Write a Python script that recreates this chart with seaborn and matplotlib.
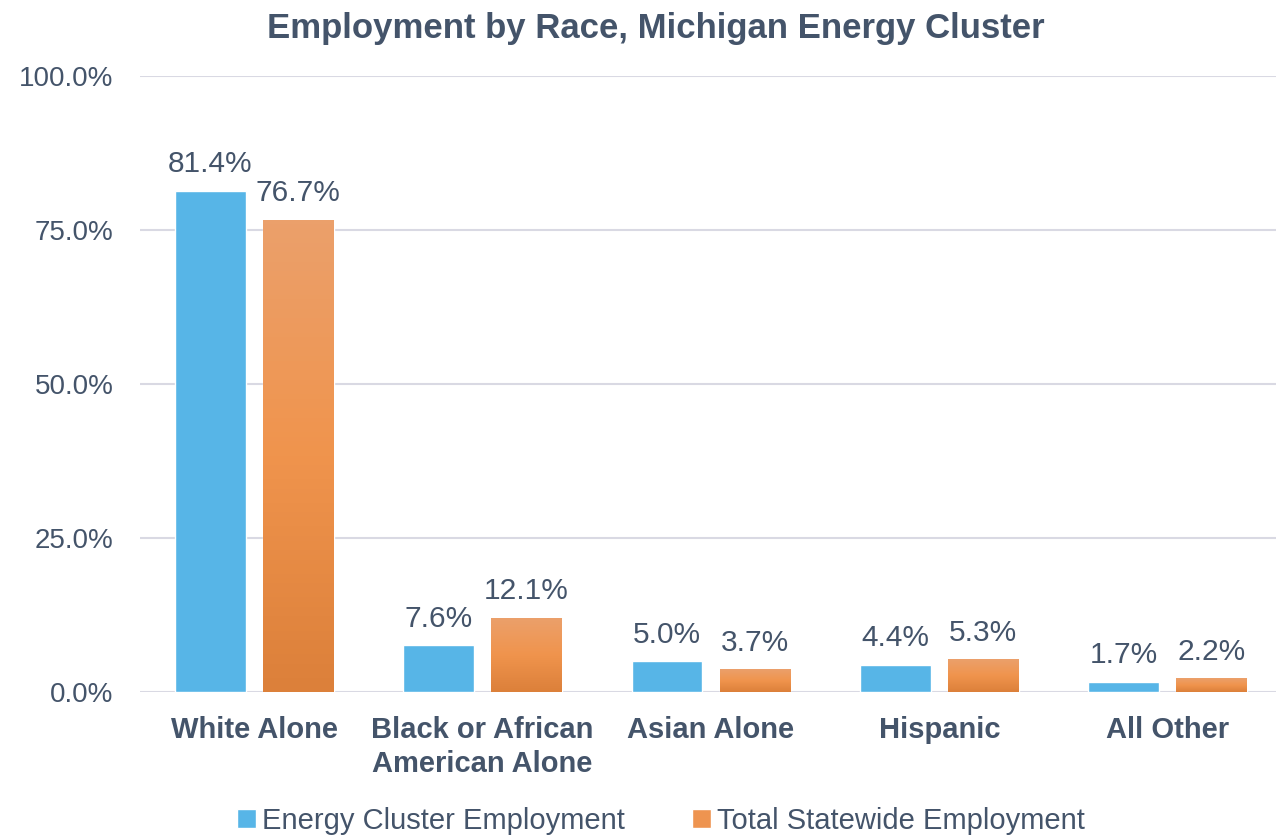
import numpy as np
import pandas as pd
import seaborn as sns
import matplotlib.pyplot as plt
from matplotlib.colors import LinearSegmentedColormap
from matplotlib.patches import Patch

# Data
categories = ['White Alone', 'Black or African\nAmerican Alone', 'Asian Alone', 'Hispanic', 'All Other']
series = ['Energy Cluster Employment', 'Total Statewide Employment']
energy_values = [81.4, 7.6, 5.0, 4.4, 1.7]
statewide_values = [76.7, 12.1, 3.7, 5.3, 2.2]

text_color = '#44546A'
blue = '#57B5E7'
orange = '#EE9450'

df = pd.DataFrame({
    'category': categories * 2,
    'series': [series[0]] * len(categories) + [series[1]] * len(categories),
    'value': energy_values + statewide_values,
})

sns.set_style('white')
plt.rcParams['font.family'] = ['Liberation Sans', 'DejaVu Sans']

fig = plt.figure(figsize=(12.76, 8.36), dpi=100)
ax = fig.add_axes([0.1097, 0.1722, 0.895, 0.7368])

sns.barplot(data=df, x='category', y='value', hue='series', order=categories,
            hue_order=series, palette=[blue, orange], width=0.77, gap=0.195,
            saturation=1, legend=False, ax=ax)

# gradient on the orange bars
grad = LinearSegmentedColormap.from_list('og', ['#DC803A', '#F0944D', '#EBA06B'])
for bar in ax.containers[1]:
    x0, y0 = bar.get_x(), bar.get_y()
    w, h = bar.get_width(), bar.get_height()
    img = ax.imshow(np.linspace(0, 1, 100).reshape(-1, 1), cmap=grad, origin='lower',
                    extent=[x0, x0 + w, y0, y0 + h], aspect='auto', zorder=bar.get_zorder() + 0.1)
    img.set_clip_path(bar)

# data labels
for cont in ax.containers:
    ax.bar_label(cont, labels=[f'{v:.1f}%' for v in cont.datavalues], padding=9,
                 fontsize=21.5, color=text_color)

ax.set_xlim(-0.5, 4.5)
ax.set_ylim(0, 100)
ax.set_yticks([0, 25, 50, 75, 100])
ax.set_yticklabels(['0.0%', '25.0%', '50.0%', '75.0%', '100.0%'])
ax.tick_params(axis='y', labelsize=20, labelcolor=text_color, length=0, pad=19)
ax.tick_params(axis='x', labelsize=21, labelcolor=text_color, length=0, pad=17)
for lbl in ax.get_xticklabels():
    lbl.set_fontweight('bold')
    lbl.set_linespacing(1.3)
ax.set_xlabel('')
ax.set_ylabel('')
ax.grid(True, axis='y', color='#D9D9E3', linewidth=1.5)
ax.set_axisbelow(True)
sns.despine(ax=ax, left=True, bottom=True)

fig.suptitle('Employment by Race, Michigan Energy Cluster', fontsize=25, fontweight='bold',
             color=text_color, x=0.514, y=0.986)

handles = [Patch(facecolor=blue), Patch(facecolor=orange)]
fig.legend(handles, series, loc='lower center', bbox_to_anchor=(0.518, -0.03), ncol=2,
           frameon=False, fontsize=21, labelcolor=text_color, handlelength=0.65,
           handleheight=0.65, handletextpad=0.2, columnspacing=2.3)

fig.savefig('out.png', dpi=100)
